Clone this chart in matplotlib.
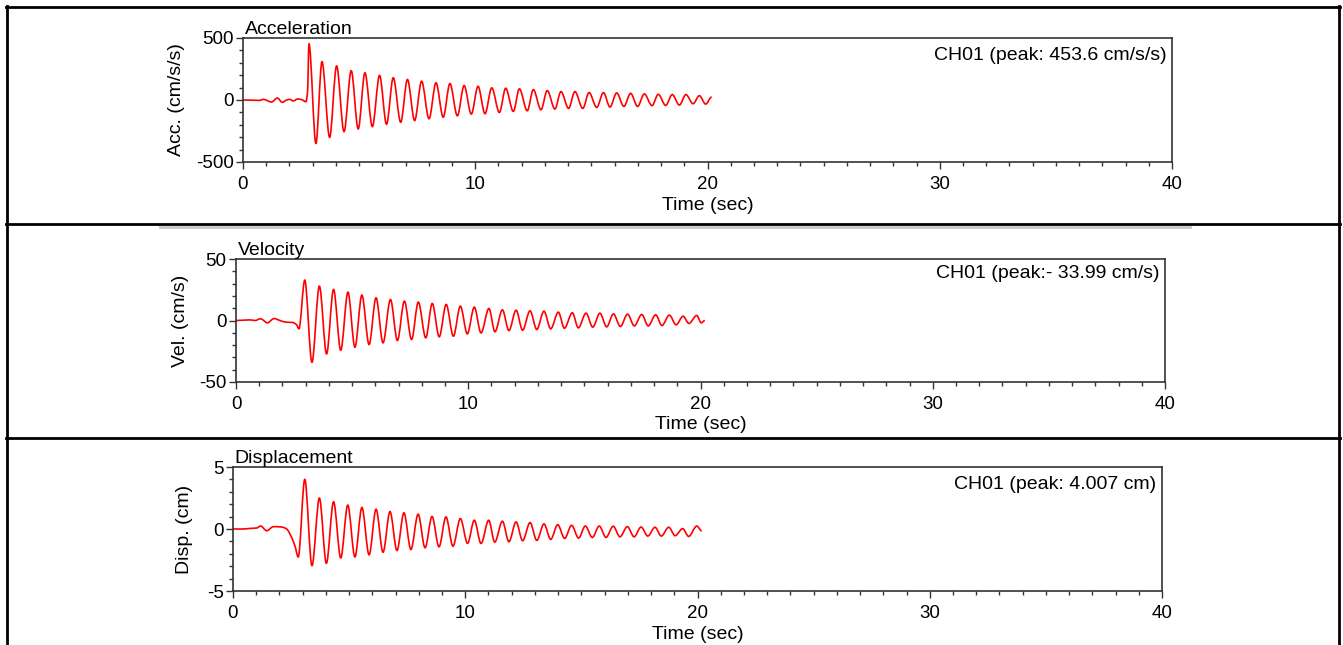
import matplotlib
matplotlib.use("Agg")
import matplotlib.pyplot as plt
from matplotlib.ticker import MultipleLocator
from matplotlib.path import Path
from matplotlib.patches import PathPatch

plt.rcParams["font.family"] = ["Liberation Sans", "DejaVu Sans"]
plt.rcParams["axes.unicode_minus"] = False

# values (time in sec), peaks and troughs of each trace
acc_t = [0.0, 0.73, 0.87, 1.23, 1.48, 1.69, 1.88, 2.02, 2.17, 2.34, 2.53, 2.71, 2.78, 2.84,
         3.14, 3.40, 3.73, 4.03, 4.35, 4.66, 4.96, 5.25, 5.57, 5.88, 6.18, 6.47, 6.79, 7.08,
         7.39, 7.69, 8.01, 8.31, 8.62, 8.91, 9.23, 9.52, 9.83, 10.12,
         10.42, 10.71, 11.04, 11.31, 11.64, 11.90, 12.24, 12.50, 12.83, 13.10, 13.43, 13.69,
         14.02, 14.29, 14.63, 14.90, 15.23, 15.52, 15.80, 16.09, 16.40, 16.69, 16.99, 17.28,
         17.61, 17.88, 18.20, 18.48, 18.79, 19.07, 19.38, 19.65, 19.92, 20.18]
acc_v = [0, -3, 5, -16, 16, -19, 0, 5, -8, 8, 3, -14, 70, 453.6,
         -351, 310, -302, 275, -256, 237, -234, 220, -215, 199, -196, 180, -180, 166,
         -166, 152, -152, 139, -139, 133, -128, 117, -114, 111,
         -111, 98, -101, 95, -92, 90, -87, 84, -79, 76, -73, 68,
         -68, 68, -68, 60, -60, 60, -57, 57, -52, 54, -52, 49,
         -46, 46, -44, 44, -41, 44, -30, 35, -33, 24]

vel_t = [0.0, 0.60, 0.82, 1.06, 1.35, 1.64, 1.89, 2.18, 2.44, 2.61, 2.71,
         2.96, 3.27, 3.59, 3.90, 4.20, 4.51, 4.82, 5.12, 5.42, 5.73, 6.03, 6.33, 6.65, 6.95,
         7.25, 7.56, 7.85, 8.17, 8.45, 8.75, 9.05, 9.36, 9.66, 9.96,
         10.26, 10.55, 10.89, 11.15, 11.47, 11.75, 12.06, 12.34, 12.66, 12.95, 13.26, 13.55,
         13.88, 14.14, 14.48, 14.74, 15.07, 15.36, 15.67, 15.96, 16.25, 16.55, 16.86, 17.15,
         17.47, 17.75, 18.07, 18.34, 18.66, 18.95, 19.25, 19.50, 19.84, 20.03, 20.19]
vel_v = [0, 0.5, 0, 1.4, -1.9, 1.6, 0, -1.4, -1.6, -3.5, -6.8,
         32.9, -33.99, 28.0, -27.2, 25.3, -24.2, 23.1, -21.8, 20.7, -19.6, 18.5, -18.2, 17.1, -16.3,
         15.8, -15.5, 15.0, -14.1, 13.9, -13.3, 13.1, -12.8, 11.7, -10.9,
         10.9, -10.1, 9.8, -9.2, 8.7, -8.2, 8.4, -7.9, 7.9, -7.3, 7.6, -6.8,
         6.8, -6.3, 6.3, -6.0, 6.0, -5.4, 6.0, -5.2, 5.4, -4.9, 5.2, -4.4,
         4.9, -4.4, 4.6, -4.1, 4.4, -3.5, 3.5, -2.4, 4.1, -1.9, 0]

disp_t = [0.0, 0.44, 0.75, 1.02, 1.19, 1.45, 1.74, 2.10, 2.31, 2.53, 2.67, 2.81,
          3.09, 3.40, 3.72, 4.02, 4.33, 4.64, 4.94, 5.25, 5.55, 5.86, 6.16, 6.46, 6.76,
          7.06, 7.36, 7.66, 7.97, 8.27, 8.57, 8.87, 9.17, 9.47, 9.79, 10.10,
          10.39, 10.68, 11.01, 11.27, 11.60, 11.88, 12.19, 12.47, 12.79, 13.08, 13.39, 13.68,
          13.98, 14.28, 14.58, 14.88, 15.17, 15.47, 15.77, 16.06, 16.37, 16.66, 16.98, 17.27,
          17.57, 17.86, 18.17, 18.44, 18.76, 19.04, 19.36, 19.62, 19.97, 20.18]
disp_v = [0, 0.0, 0.05, 0.08, 0.24, -0.14, 0.19, 0.16, 0.0, -0.7, -1.39, -2.26,
          4.007, -2.96, 2.50, -2.77, 2.20, -2.34, 1.93, -2.26, 1.74, -2.09, 1.60, -1.88, 1.41,
          -1.74, 1.31, -1.66, 1.20, -1.52, 1.01, -1.44, 0.98, -1.39, 0.84, -1.16,
          0.71, -1.17, 0.71, -1.06, 0.63, -1.03, 0.57, -0.95, 0.52, -0.92, 0.41, -0.84,
          0.35, -0.76, 0.30, -0.73, 0.24, -0.68, 0.24, -0.68, 0.22, -0.63, 0.19, -0.63,
          0.16, -0.57, 0.14, -0.57, 0.14, -0.54, 0.03, -0.6, 0.24, -0.16]

titles = ["Acceleration", "Velocity", "Displacement"]
ylabels = ["Acc. (cm/s/s)", "Vel. (cm/s)", "Disp. (cm)"]
peak_labels = ["CH01 (peak: 453.6 cm/s/s)", "CH01 (peak:- 33.99 cm/s)", "CH01 (peak: 4.007 cm)"]
ylims = [500, 50, 5]
xlabel = "Time (sec)"

W, H = 1343, 645
fig = plt.figure(figsize=(W / 100, H / 100), dpi=100)

AX_COLOR = "#333333"
FS = 14


def px_rect(left, top, right, bottom):
    return [left / W, 1 - bottom / H, (right - left) / W, (bottom - top) / H]


def hline(y, x0, x1, color="black", lw=2.0):
    fig.add_artist(plt.Line2D([x0 / W, x1 / W], [1 - y / H, 1 - y / H],
                              transform=fig.transFigure, color=color, lw=lw))


def vline(x, y0, y1, color="black", lw=2.0):
    fig.add_artist(plt.Line2D([x / W, x / W], [1 - y0 / H, 1 - y1 / H],
                              transform=fig.transFigure, color=color, lw=lw))


def smooth_path(t, v):
    # cubic bezier through the read points, flat at peaks/troughs
    n = len(t)
    m = [0.0] * n
    for i in range(1, n - 1):
        d1 = (v[i] - v[i - 1]) / (t[i] - t[i - 1])
        d2 = (v[i + 1] - v[i]) / (t[i + 1] - t[i])
        if d1 * d2 > 0:
            m[i] = 2 * d1 * d2 / (d1 + d2)
    verts = [(t[0], v[0])]
    codes = [Path.MOVETO]
    for i in range(n - 1):
        dt = t[i + 1] - t[i]
        verts += [(t[i] + dt / 3, v[i] + m[i] * dt / 3),
                  (t[i + 1] - dt / 3, v[i + 1] - m[i + 1] * dt / 3),
                  (t[i + 1], v[i + 1])]
        codes += [Path.CURVE4] * 3
    return Path(verts, codes)


def make_panel(rect, t, v, title, ylabel, peak, ylim, ylab_x, peak_y):
    ax = fig.add_axes(rect)
    ax.add_patch(PathPatch(smooth_path(t, v), facecolor="none", edgecolor="#ff0000",
                           lw=1.2, joinstyle="round"))
    ax.set_xlim(0, 40)
    ax.set_ylim(-ylim, ylim)
    ax.xaxis.set_major_locator(MultipleLocator(10))
    ax.xaxis.set_minor_locator(MultipleLocator(1))
    ax.yaxis.set_major_locator(MultipleLocator(ylim))
    ax.yaxis.set_minor_locator(MultipleLocator(ylim / 5))
    ax.tick_params(which="both", direction="out", color=AX_COLOR, width=1.0, labelsize=13.5)
    ax.tick_params(which="major", length=4.8)
    ax.tick_params(which="minor", length=3.0)
    ax.tick_params(axis="x", pad=5)
    ax.tick_params(axis="y", pad=2)
    for s in ax.spines.values():
        s.set_color(AX_COLOR)
        s.set_linewidth(1.2)
    ax.set_xlabel(xlabel, fontsize=FS)
    ax.xaxis.set_label_coords(0.5, -0.28)
    ax.set_ylabel(ylabel, fontsize=FS)
    ax.yaxis.set_label_coords(ylab_x, 0.5)
    ax.text(0.002, 1.03, title, transform=ax.transAxes, ha="left", va="baseline", fontsize=FS)
    ax.text(0.994, peak_y, peak, transform=ax.transAxes, ha="right", va="top", fontsize=FS)
    return ax


make_panel(px_rect(243, 38, 1172, 162), acc_t, acc_v, titles[0], ylabels[0],
           peak_labels[0], ylims[0], -0.062, 0.93)
make_panel(px_rect(236, 259, 1165, 382), vel_t, vel_v, titles[1], ylabels[1],
           peak_labels[1], ylims[1], -0.051, 0.95)
make_panel(px_rect(233, 467, 1162, 591), disp_t, disp_v, titles[2], ylabels[2],
           peak_labels[2], ylims[2], -0.043, 0.93)

# table borders around the three panels
vline(7, 6, 645)
vline(1339, 6, 645)
hline(7, 6, 1340)
hline(224, 6, 1340)
hline(438, 6, 1340)
hline(227, 160, 1190, color="#c8c8c8", lw=2.0)

fig.savefig("out.png", dpi=100)
